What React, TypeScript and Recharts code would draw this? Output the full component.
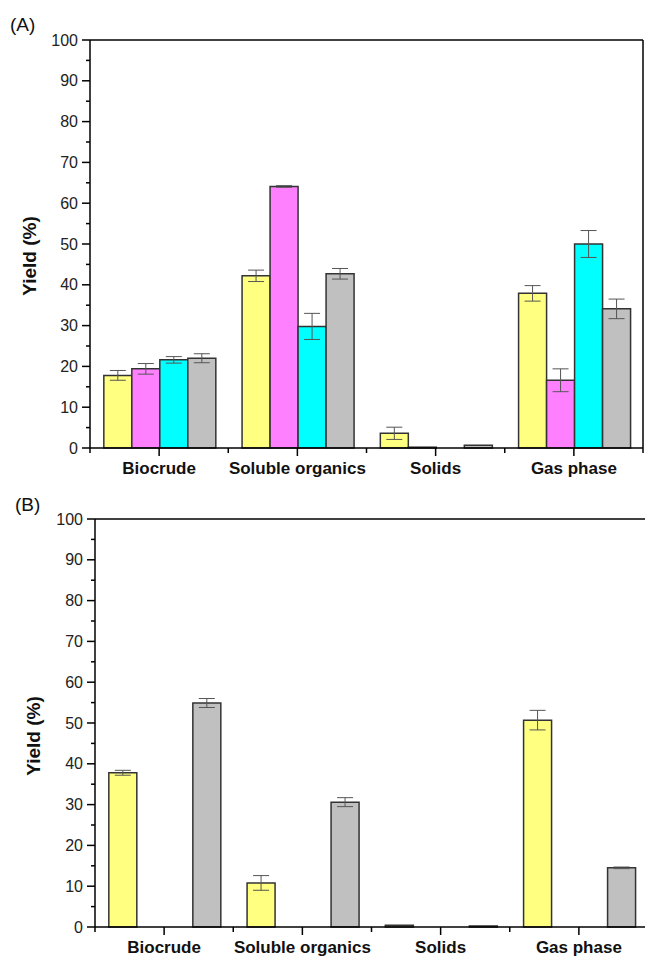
import React from 'react';
import { BarChart, Bar, XAxis, YAxis, ErrorBar, ReferenceLine } from 'recharts';

// categories and tick labels
const categories = ['Biocrude', 'Soluble organics', 'Solids', 'Gas phase'];
const yTicks = [0, 5, 10, 15, 20, 25, 30, 35, 40, 45, 50, 55, 60, 65, 70, 75, 80, 85, 90, 95, 100];

// panel (A)
const aYellow = [17.8, 42.2, 3.6, 37.9];
const aYellowErr = [1.2, 1.4, 1.5, 1.9];
const aMagenta = [19.4, 64.1, 0.2, 16.6];
const aMagentaErr = [1.3, 0.2, null, 2.8];
const aCyan = [21.6, 29.8, 0, 50.0];
const aCyanErr = [0.8, 3.2, null, 3.3];
const aGray = [22.0, 42.7, 0.7, 34.1];
const aGrayErr = [1.1, 1.3, null, 2.4];

// panel (B)
const bYellow = [37.8, 10.8, 0.4, 50.7];
const bYellowErr = [0.6, 1.8, null, 2.4];
const bMagenta = [null, null, null, null];
const bCyan = [null, null, null, null];
const bGray = [54.9, 30.6, 0.25, 14.5];
const bGrayErr = [1.1, 1.1, null, 0.2];

const buildRows = (y: any[], yE: any[], m: any[], mE: any[], c: any[], cE: any[], g: any[], gE: any[]) =>
  categories.map((cat, i) => ({
    cat,
    y: y[i], yE: yE[i],
    m: m[i], mE: mE[i],
    c: c[i], cE: cE[i],
    g: g[i], gE: gE[i],
  }));

const dataA = buildRows(aYellow, aYellowErr, aMagenta, aMagentaErr, aCyan, aCyanErr, aGray, aGrayErr);
const dataB = buildRows(bYellow, bYellowErr, bMagenta, [null, null, null, null], bCyan, [null, null, null, null], bGray, bGrayErr);

const YELLOW = '#FFFF80';
const MAGENTA = '#FF80FF';
const CYAN = '#00FFFF';
const GRAY = '#C0C0C0';
const EDGE = '#333';
const FONT = '"Liberation Sans", Arial, sans-serif';

const YTick = (props: any) => {
  const { y, payload, axisX } = props;
  const major = payload.value % 10 === 0;
  return (
    <g>
      <line x1={axisX - (major ? 8 : 4)} x2={axisX} y1={y} y2={y} stroke="#000" strokeWidth={1.5} />
      {major && (
        <text x={axisX - 12} y={y} dy={5.5} textAnchor="end" fontSize={16} fill="#222" fontFamily={FONT}>
          {payload.value}
        </text>
      )}
    </g>
  );
};

const XTick = (props: any) => {
  const { x, payload, index, axisY, band } = props;
  return (
    <g>
      <line x1={x} x2={x} y1={axisY} y2={axisY + 8} stroke="#000" strokeWidth={1.5} />
      <line x1={x - band / 2} x2={x - band / 2} y1={axisY} y2={axisY + 5} stroke="#000" strokeWidth={1.5} />
      {index === categories.length - 1 && (
        <line x1={x + band / 2} x2={x + band / 2} y1={axisY} y2={axisY + 5} stroke="#000" strokeWidth={1.5} />
      )}
      <text x={x} y={axisY + 26} textAnchor="middle" fontSize={17} fontWeight="bold" fill="#111" fontFamily={FONT}>
        {payload.value}
      </text>
    </g>
  );
};

const errProps = { width: 8, strokeWidth: 1, stroke: '#555', direction: 'y' as const };

const Panel = ({ data, width, height, margin, axisWidth, axisY, withRight, withMid }: any) => {
  const plotW = width - margin.left - margin.right - axisWidth - (withRight ? 2 : 0);
  const band = plotW / categories.length;
  return (
    <BarChart
      width={width}
      height={height}
      data={data}
      margin={margin}
      barGap={0}
      barCategoryGap="10%"
      style={{ fontFamily: FONT }}
    >
      <XAxis
        dataKey="cat"
        height={30}
        interval={0}
        tickLine={false}
        axisLine={{ stroke: '#000', strokeWidth: 1.5 }}
        tick={(p: any) => <XTick {...p} axisY={axisY} band={band} />}
      />
      <YAxis
        domain={[0, 100]}
        ticks={yTicks}
        interval={0}
        width={axisWidth}
        tickLine={false}
        axisLine={{ stroke: '#000', strokeWidth: 1.5 }}
        tick={(p: any) => <YTick {...p} axisX={margin.left + axisWidth} />}
      />
      {withRight && (
        <YAxis
          yAxisId="r"
          orientation="right"
          domain={[0, 100]}
          width={2}
          tick={false}
          tickLine={false}
          axisLine={{ stroke: '#000', strokeWidth: 1.5 }}
        />
      )}
      <ReferenceLine y={100} stroke="#000" strokeWidth={1.5} />
      <Bar dataKey="y" fill={YELLOW} stroke={EDGE} strokeWidth={1.5} isAnimationActive={false}>
        <ErrorBar dataKey="yE" {...errProps} />
      </Bar>
      <Bar dataKey="m" fill={MAGENTA} stroke={EDGE} strokeWidth={1.5} isAnimationActive={false}>
        {withMid && <ErrorBar dataKey="mE" {...errProps} />}
      </Bar>
      <Bar dataKey="c" fill={CYAN} stroke={EDGE} strokeWidth={1.5} isAnimationActive={false}>
        {withMid && <ErrorBar dataKey="cE" {...errProps} />}
      </Bar>
      <Bar dataKey="g" fill={GRAY} stroke={EDGE} strokeWidth={1.5} isAnimationActive={false}>
        <ErrorBar dataKey="gE" {...errProps} />
      </Bar>
    </BarChart>
  );
};

export default function App() {
  return (
    <div
      style={{
        position: 'absolute',
        left: 0,
        top: 0,
        width: 645,
        height: 957,
        overflow: 'hidden',
        background: '#fff',
        fontFamily: FONT,
      }}
    >
      <div style={{ position: 'absolute', left: 0, top: 0 }}>
        <Panel
          data={dataA}
          width={645}
          height={480}
          margin={{ top: 40, right: 0, bottom: 2, left: 0 }}
          axisWidth={90}
          axisY={448}
          withRight
          withMid
        />
      </div>
      <div style={{ position: 'absolute', left: 0, top: 480 }}>
        <Panel
          data={dataB}
          width={650}
          height={477}
          margin={{ top: 39, right: 2, bottom: 0, left: 0 }}
          axisWidth={95}
          axisY={447}
          withRight={false}
          withMid={false}
        />
      </div>
      <svg
        width={645}
        height={957}
        style={{ position: 'absolute', left: 0, top: 0, pointerEvents: 'none' }}
        fontFamily={FONT}
      >
        <text x={10} y={31} fontSize={19} fill="#111">(A)</text>
        <text x={15} y={511} fontSize={19} fill="#111">(B)</text>
        <text
          x={36}
          y={256}
          fontSize={19}
          fontWeight="bold"
          textAnchor="middle"
          fill="#111"
          transform="rotate(-90 36 256)"
        >
          Yield (%)
        </text>
        <text
          x={40}
          y={736}
          fontSize={19}
          fontWeight="bold"
          textAnchor="middle"
          fill="#111"
          transform="rotate(-90 40 736)"
        >
          Yield (%)
        </text>
      </svg>
    </div>
  );
}
